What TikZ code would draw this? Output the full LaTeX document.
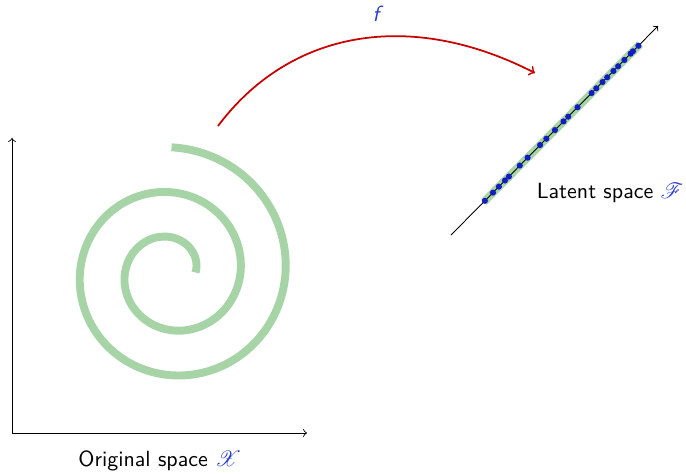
\documentclass[tikz,border=0pt]{standalone}
\usepackage{mathrsfs}
\usetikzlibrary{calc}
\definecolor{bandgreen}{RGB}{166,212,166}
\definecolor{dotblue}{RGB}{20,30,190}
\definecolor{labelblue}{RGB}{40,60,200}
\definecolor{mapred}{RGB}{200,0,0}
\tikzset{
  axis/.style={->,thin,black},
  manifold/.style={bandgreen,line width=3.6pt},
  sample/.style={dotblue},
  maparrow/.style={->,thick,mapred},
  spacelabel/.style={font=\sffamily},
}
\begin{document}
\begin{tikzpicture}[x=0.016cm,y=-0.016cm]
\path[use as bounding box] (0,0) rectangle (686,473);
% original space axes
\coordinate (O) at (12,433);
\coordinate (Oy) at (12,138);
\coordinate (Ox) at (307,433);
\draw[axis] (O) -- (Oy);
\draw[axis] (O) -- (Ox);
\node[spacelabel] (xlabel) at (160,461) {Original space \textcolor{labelblue}{$\mathscr{X}$}};
% spiral
\draw[manifold] plot[smooth,domain=0:810,samples=200,variable=\t]
  ({171.5+(24+\t/360*45)*cos(\t)},{272.5-(24+\t/360*45)*sin(\t)});
% latent axis
\coordinate (P) at (451,235);
\coordinate (Q) at (658,26);
\coordinate (A) at ($(P)!0.159!(Q)$);
\coordinate (B) at ($(P)!0.913!(Q)$);
\draw[manifold] (A) -- (B);
\draw[axis] (P) -- (Q);
\foreach \s in {0.006,0.058,0.096,0.135,0.16,0.23,0.28,0.36,0.40,0.455,0.51,0.54,0.60,0.69,0.72,0.76,0.79,0.83,0.86,0.90,0.94,0.955,0.99}{
  \fill[sample] ($(A)!\s!(B)$) circle[radius=1.4pt];
}
\node[spacelabel,anchor=west] (flabel) at (529,193) {Latent space \textcolor{labelblue}{$\mathscr{F}$}};
% mapping arrow
\coordinate (m0) at (218,126);
\coordinate (m1) at (535,73);
\draw[maparrow] (m0) .. controls (290,30) and (410,9) .. (m1);
\node[spacelabel,text=labelblue] (fname) at (378,14) {\textit{f}};
\end{tikzpicture}
\end{document}
